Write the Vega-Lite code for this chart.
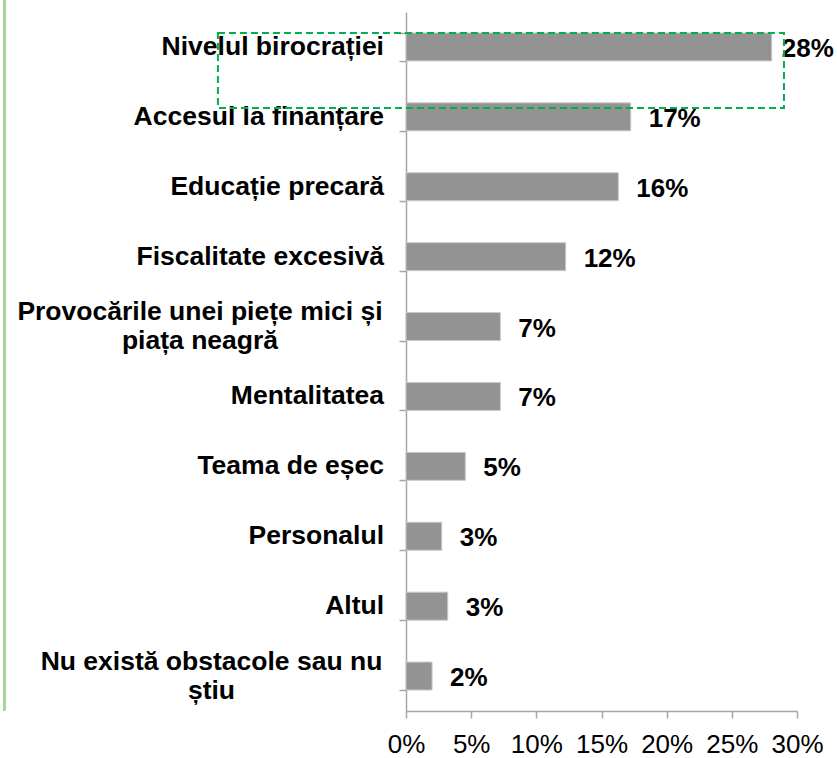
{
  "$schema": "https://vega.github.io/schema/vega-lite/v6.json",
  "autosize": "none",
  "width": 391,
  "height": 699,
  "padding": {"left": 406, "top": 12, "right": 40, "bottom": 47},
  "background": "white",
  "config": {
    "view": {"stroke": null},
    "font": "Liberation Sans",
    "axis": {"labelFont": "Liberation Sans", "labelColor": "#000000", "domainColor": "#a6a6a6", "tickColor": "#a6a6a6", "domainWidth": 1.5, "tickWidth": 1.5}
  },
  "data": {
    "values": [
      {"obstacol": "Nivelul birocrației", "pondere": 0.2806},
      {"obstacol": "Accesul la finanțare", "pondere": 0.1724},
      {"obstacol": "Educație precară", "pondere": 0.1629},
      {"obstacol": "Fiscalitate excesivă", "pondere": 0.1225},
      {"obstacol": "Provocările unei piețe mici și piața neagră", "pondere": 0.0724},
      {"obstacol": "Mentalitatea", "pondere": 0.0724},
      {"obstacol": "Teama de eșec", "pondere": 0.0455},
      {"obstacol": "Personalul", "pondere": 0.0274},
      {"obstacol": "Altul", "pondere": 0.0320},
      {"obstacol": "Nu există obstacole sau nu știu", "pondere": 0.0200}
    ]
  },
  "layer": [
    {
      "mark": {"type": "bar", "color": "#939393", "stroke": "#c9c9c9", "strokeWidth": 1},
      "encoding": {
        "y": {
          "field": "obstacol",
          "type": "nominal",
          "sort": null,
          "scale": {"paddingInner": 0.6, "paddingOuter": 0.3},
          "axis": {
            "title": null,
            "tickBand": "extent",
            "tickSize": 7,
            "labels": false
          }
        },
        "x": {
          "field": "pondere",
          "type": "quantitative",
          "scale": {"domain": [0, 0.3], "nice": false, "zero": true},
          "axis": {
            "title": null,
            "values": [0, 0.05, 0.1, 0.15, 0.2, 0.25, 0.3],
            "format": ".0%",
            "grid": false,
            "tickSize": 7,
            "labelFontSize": 26,
            "labelPadding": 13,
            "labelFlush": false
          }
        }
      }
    },
    {
      "transform": [{"filter": "datum.obstacol != 'Provocările unei piețe mici și piața neagră' && datum.obstacol != 'Nu există obstacole sau nu știu'"}],
      "mark": {"type": "text", "align": "right", "baseline": "middle", "dx": -22, "fontSize": 26.5, "fontWeight": "bold", "color": "#000000"},
      "encoding": {
        "y": {"field": "obstacol", "type": "nominal", "sort": null},
        "x": {"datum": 0, "type": "quantitative"},
        "text": {"field": "obstacol"}
      }
    },
    {
      "transform": [{"filter": "datum.obstacol == 'Provocările unei piețe mici și piața neagră'"}],
      "mark": {"type": "text", "align": "center", "baseline": "middle", "dx": -206, "dy": -14.5, "lineHeight": 29, "fontSize": 26.5, "fontWeight": "bold", "color": "#000000"},
      "encoding": {
        "y": {"field": "obstacol", "type": "nominal", "sort": null},
        "x": {"datum": 0, "type": "quantitative"},
        "text": {"value": ["Provocările unei piețe mici și", "piața neagră"]}
      }
    },
    {
      "transform": [{"filter": "datum.obstacol == 'Nu există obstacole sau nu știu'"}],
      "mark": {"type": "text", "align": "center", "baseline": "middle", "dx": -194.5, "dy": -14.5, "lineHeight": 29, "fontSize": 26.5, "fontWeight": "bold", "color": "#000000"},
      "encoding": {
        "y": {"field": "obstacol", "type": "nominal", "sort": null},
        "x": {"datum": 0, "type": "quantitative"},
        "text": {"value": ["Nu există obstacole sau nu", "știu"]}
      }
    },
    {
      "transform": [{"filter": "datum.obstacol != 'Nivelul birocrației'"}],
      "mark": {"type": "text", "align": "left", "baseline": "middle", "dx": 18, "dy": 2, "fontSize": 26, "fontWeight": "bold", "color": "#000000"},
      "encoding": {
        "y": {"field": "obstacol", "type": "nominal", "sort": null},
        "x": {"field": "pondere", "type": "quantitative"},
        "text": {"field": "pondere", "type": "quantitative", "format": ".0%"}
      }
    },
    {
      "transform": [{"filter": "datum.obstacol == 'Nivelul birocrației'"}],
      "mark": {"type": "text", "align": "left", "baseline": "middle", "dx": 10, "dy": 2, "fontSize": 26, "fontWeight": "bold", "color": "#000000"},
      "encoding": {
        "y": {"field": "obstacol", "type": "nominal", "sort": null},
        "x": {"field": "pondere", "type": "quantitative"},
        "text": {"field": "pondere", "type": "quantitative", "format": ".0%"}
      }
    },
    {
      "transform": [{"filter": "datum.obstacol == 'Nivelul birocrației'"}],
      "mark": {"type": "rect", "filled": false, "stroke": "#00b050", "strokeWidth": 2, "strokeDash": [7, 4], "height": 75, "yOffset": 23.5},
      "encoding": {
        "y": {"field": "obstacol", "type": "nominal", "sort": null},
        "x": {"datum": -0.1443, "type": "quantitative"},
        "x2": {"datum": 0.29}
      }
    },
    {
      "mark": {"type": "rule", "stroke": "#a9d49d", "strokeWidth": 2, "yOffset": -12},
      "encoding": {
        "x": {"datum": -0.308, "type": "quantitative"}
      }
    }
  ]
}
